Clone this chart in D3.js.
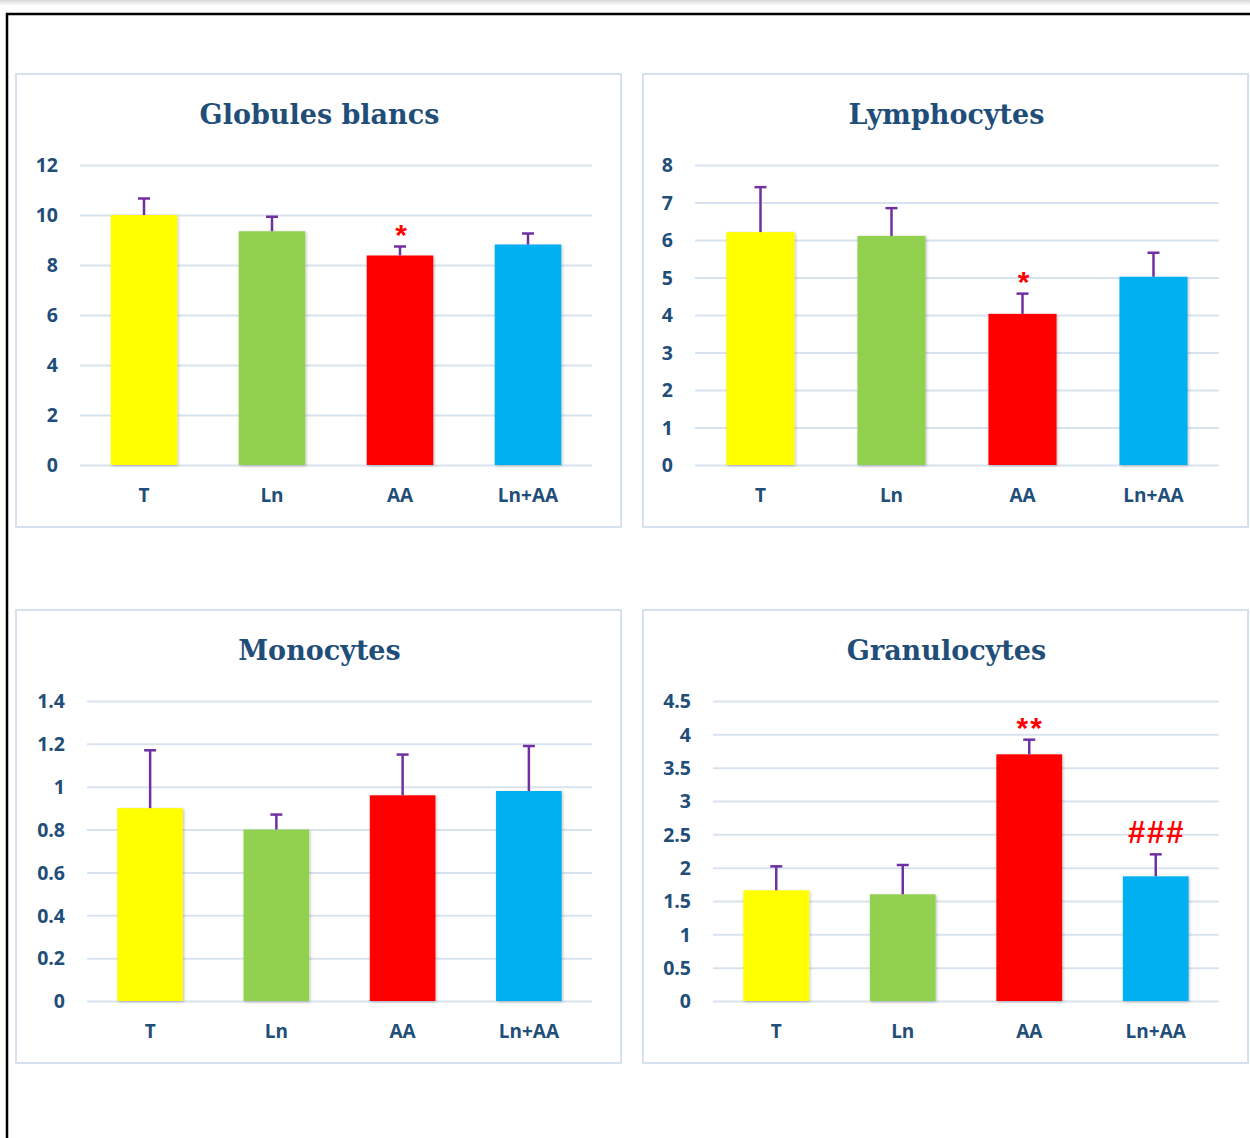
<!DOCTYPE html>
<html>
<head>
<meta charset="utf-8">
<script src="https://cdn.jsdelivr.net/npm/d3@7"></script>
<style>
  body { margin: 0; background: #fff; }
  svg { display: block; }
</style>
</head>
<body>
<svg id="chart" width="1250" height="1138"></svg>
<script>
var groups = ['T', 'Ln', 'AA', 'Ln+AA'];
var barColors = ['#ffff00', '#92d050', '#ff0000', '#00b0f0'];

// mean values per panel
var wbcMeans = [10.0, 9.35, 8.38, 8.82];
var wbcErrors = [0.66, 0.58, 0.36, 0.44];
var wbcTicks = [0, 2, 4, 6, 8, 10, 12];
var wbcMarks = ['', '', '*', ''];

var lymMeans = [6.21, 6.11, 4.03, 5.02];
var lymErrors = [1.2, 0.74, 0.54, 0.64];
var lymTicks = [0, 1, 2, 3, 4, 5, 6, 7, 8];
var lymMarks = ['', '', '*', ''];

var monoMeans = [0.90, 0.80, 0.96, 0.98];
var monoErrors = [0.27, 0.07, 0.19, 0.21];
var monoTicks = [0, 0.2, 0.4, 0.6, 0.8, 1, 1.2, 1.4];
var monoMarks = ['', '', '', ''];

var granMeans = [1.66, 1.60, 3.70, 1.87];
var granErrors = [0.36, 0.44, 0.22, 0.33];
var granTicks = [0, 0.5, 1, 1.5, 2, 2.5, 3, 3.5, 4, 4.5];
var granMarks = ['', '', '**', '###'];

var svg = d3.select('#chart');

// top page shading and outer frame
var defs = svg.append('defs');
var shade = defs.append('linearGradient').attr('id', 'topShade')
    .attr('x1', 0).attr('y1', 0).attr('x2', 0).attr('y2', 1);
shade.append('stop').attr('offset', '0%').attr('stop-color', '#d8d8d8');
shade.append('stop').attr('offset', '100%').attr('stop-color', '#ffffff');
svg.append('rect').attr('x', 0).attr('y', 0).attr('width', 1250).attr('height', 6)
    .attr('fill', 'url(#topShade)');

var shadow = defs.append('filter').attr('id', 'barShadow')
    .attr('x', '-20%').attr('y', '-10%').attr('width', '140%').attr('height', '120%');
shadow.append('feDropShadow').attr('dx', 1).attr('dy', 1).attr('stdDeviation', 1.5)
    .attr('flood-color', '#000').attr('flood-opacity', 0.25);

svg.append('path')
    .attr('d', 'M7,1138 V14 H1250')
    .attr('fill', 'none').attr('stroke', '#000').attr('stroke-width', 2.5);

var panels = [
    { title: 'Globules blancs', means: wbcMeans, errors: wbcErrors, ticks: wbcTicks, marks: wbcMarks,
      box: [16, 74, 605, 453], x0: 80, x1: 592, y0: 465, y1: 165 },
    { title: 'Lymphocytes', means: lymMeans, errors: lymErrors, ticks: lymTicks, marks: lymMarks,
      box: [643, 74, 605, 453], x0: 695, x1: 1219, y0: 465, y1: 165 },
    { title: 'Monocytes', means: monoMeans, errors: monoErrors, ticks: monoTicks, marks: monoMarks,
      box: [16, 610, 605, 453], x0: 87, x1: 592, y0: 1001, y1: 701 },
    { title: 'Granulocytes', means: granMeans, errors: granErrors, ticks: granTicks, marks: granMarks,
      box: [643, 610, 605, 453], x0: 713, x1: 1219, y0: 1001, y1: 701 }
];

var textColor = '#1f4e79';

function drawPanel(p) {
    var g = svg.append('g');

    g.append('rect')
        .attr('x', p.box[0]).attr('y', p.box[1])
        .attr('width', p.box[2]).attr('height', p.box[3])
        .attr('fill', '#fff').attr('stroke', '#d5e1f0').attr('stroke-width', 2);

    g.append('text')
        .attr('x', p.box[0] + p.box[2] / 2 + 1).attr('y', p.box[1] + 50)
        .attr('text-anchor', 'middle')
        .attr('font-family', 'DejaVu Serif, serif').attr('font-weight', 'bold')
        .attr('font-size', 27).attr('fill', textColor)
        .text(p.title);

    var x = d3.scaleBand().domain(groups).range([p.x0, p.x1]).paddingInner(0.48).paddingOuter(0.24);
    var y = d3.scaleLinear().domain([0, p.ticks[p.ticks.length - 1]]).range([p.y0, p.y1]);

    // gridlines + tick labels
    var yAxis = d3.axisLeft(y).tickValues(p.ticks).tickSize(-(p.x1 - p.x0)).tickPadding(22)
        .tickFormat(function (d) { return String(d); });
    var ya = g.append('g').attr('transform', 'translate(' + p.x0 + ',0)').call(yAxis);
    ya.select('.domain').remove();
    ya.selectAll('.tick line').attr('stroke', '#d9e3f0').attr('stroke-width', 2);
    ya.selectAll('.tick text')
        .attr('font-family', 'Open Sans, sans-serif').attr('font-weight', 'bold')
        .attr('font-size', 19.5).attr('fill', textColor).attr('dy', '0.35em');

    var xAxis = d3.axisBottom(x).tickSize(0).tickPadding(24);
    var xa = g.append('g').attr('transform', 'translate(0,' + p.y0 + ')').call(xAxis);
    xa.select('.domain').remove();
    xa.selectAll('.tick text')
        .attr('font-family', 'Open Sans, sans-serif').attr('font-weight', 'bold')
        .attr('font-size', 19).attr('fill', textColor).attr('dy', '0.7em');

    g.selectAll('rect.bar').data(p.means).enter().append('rect')
        .attr('class', 'bar')
        .attr('x', function (d, i) { return x(groups[i]); })
        .attr('y', function (d) { return y(d); })
        .attr('width', x.bandwidth())
        .attr('height', function (d) { return y(0) - y(d); })
        .attr('fill', function (d, i) { return barColors[i]; })
        .attr('filter', 'url(#barShadow)');

    var cx = function (i) { return x(groups[i]) + x.bandwidth() / 2; };

    var err = g.selectAll('g.err').data(p.means).enter().append('g').attr('class', 'err')
        .attr('stroke', '#7030a0').attr('stroke-width', 2.5);
    err.append('line')
        .attr('x1', function (d, i) { return cx(i); }).attr('x2', function (d, i) { return cx(i); })
        .attr('y1', function (d) { return y(d); })
        .attr('y2', function (d, i) { return y(d + p.errors[i]); });
    err.append('line')
        .attr('x1', function (d, i) { return cx(i) - 6; }).attr('x2', function (d, i) { return cx(i) + 6; })
        .attr('y1', function (d, i) { return y(d + p.errors[i]); })
        .attr('y2', function (d, i) { return y(d + p.errors[i]); });

    g.selectAll('text.mark').data(p.marks).enter().append('text')
        .attr('class', 'mark')
        .attr('x', function (d, i) { return cx(i) + 1; })
        .attr('y', function (d, i) {
            var top = y(p.means[i] + p.errors[i]);
            return d.charAt(0) === '#' ? top - 11 : top - 2;
        })
        .attr('text-anchor', 'middle')
        .attr('font-family', 'Liberation Sans, sans-serif').attr('font-weight', 'bold')
        .attr('font-size', function (d) { return d.charAt(0) === '#' ? 31 : 30; })
        .attr('letter-spacing', function (d) { return d.length > 1 ? 2 : 0; })
        .attr('fill', '#ff0000')
        .text(function (d) { return d; });
}

panels.forEach(drawPanel);
</script>
</body>
</html>
